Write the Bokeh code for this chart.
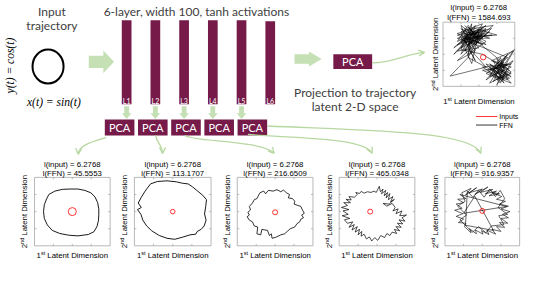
import math
from bokeh.plotting import figure
from bokeh.models import Range1d, Arrow, OpenHead
from bokeh.core.properties import value
from bokeh.embed import file_html
from bokeh.resources import INLINE

# ---------------- data ----------------
layer_labels = ["L1", "L2", "L3", "L4", "L5", "L6"]
pca_label = "PCA"
input_length = "6.2768"
layer_ffn_lengths = ["45.5553", "113.1707", "216.6509", "465.0348", "916.9357"]
final_ffn_length = "1584.693"
legend_labels = ["Inputs", "FFN"]

# latent trajectories (normalised panel units, -10..10)
traj1_x = [-0.6, 1.5, 3.3, 4.9, 6.0, 6.7, 7.0, 7.0, 6.9, 6.5, 5.7, 4.2, 1.5, -1.0, -3.3, -5.3, -6.6, -7.4, -7.6, -7.4, -6.8, -6.2, -4.6, -2.6, -0.6]
traj1_y = [6.6, 6.6, 6.2, 5.5, 4.3, 2.6, 0.8, -0.9, -2.7, -4.4, -5.9, -6.7, -7.1, -6.9, -6.4, -5.5, -3.9, -2.0, 0.0, 2.0, 3.7, 5.0, 6.0, 6.5, 6.6]

traj2_x = [-5.8, -4.0, -1.5, 1.0, 2.5, 4.0, 5.2, 6.5, 7.8, 8.8, 8.6, 8.3, 8.7, 8.2, 7.4, 6.4, 6.0, 4.5, 2.5, 0.5, -1.5, -3.5, -5.5, -6.8, -7.8, -8.3, -9.2, -8.2, -9.0, -8.2, -7.2, -5.8]
traj2_y = [8.1, 8.8, 9.0, 8.7, 8.3, 8.1, 7.2, 6.0, 4.8, 3.5, 1.5, -0.7, -2.5, -4.2, -5.2, -5.8, -6.6, -6.8, -7.5, -8.1, -7.8, -7.0, -5.6, -4.2, -2.5, -0.8, 0.6, 1.2, 2.5, 4.2, 6.0, 8.1]

traj3_x = [-4.5, -4.0, -3.0, -2.5, -1.8, -0.5, 0.5, 1.5, 2.2, 3.0, 3.8, 3.5, 4.6, 5.2, 5.0, 6.0, 6.8, 7.2, 7.7, 7.0, 7.5, 6.8, 6.5, 5.8, 5.2, 4.0, 3.2, 2.5, 1.5, 0.2, -0.8, -1.0, -1.5, -2.0, -3.5, -3.8, -4.8, -4.6, -5.5, -6.0, -6.8, -7.4, -6.8, -7.2, -6.5, -6.8, -6.0, -5.5, -4.8, -4.5]
traj3_y = [4.5, 5.5, 6.0, 5.2, 6.2, 6.0, 6.4, 5.8, 6.3, 5.5, 5.0, 4.0, 3.8, 3.0, 2.2, 1.8, 1.5, 0.5, -0.5, -1.0, -1.8, -2.2, -3.0, -3.5, -4.5, -5.0, -5.8, -6.5, -6.8, -7.5, -7.8, -6.5, -7.0, -5.5, -5.2, -6.8, -6.5, -4.5, -4.2, -3.0, -2.5, -1.5, -1.0, -0.2, 0.5, 1.5, 2.5, 3.5, 3.8, 4.5]

traj4_x = [-6.0, -5.2, -5.6, -4.6, -4.2, -3.4, -2.5, -1.6, -0.8, -0.2, 0.6, 0.9,
           1.6, 1.2, 2.3, 1.9, 2.8, 2.4, 3.4, 3.0, 4.2, 3.6, 4.6, 3.2, 1.6, 2.6, 4.0,
           4.8, 4.2, 5.6, 5.0, 6.6, 6.0, 7.8, 6.6, 7.4, 5.8, 6.8, 5.4, 6.4, 5.0, 6.0, 4.6, 5.2,
           4.0, 3.4, 2.6, 2.0, 1.0, 0.2, -0.6, -1.4, -2.0, -2.8,
           -3.4, -4.2, -4.0, -5.0, -4.6, -5.8, -5.2, -6.6, -6.0, -7.4, -6.4,
           -7.8, -8.6, -7.2, -9.2, -7.6, -9.0, -7.4, -9.4, -7.8, -8.8, -7.0, -8.2, -6.8, -7.4, -6.0]
traj4_y = [4.2, 5.0, 5.6, 5.3, 5.9, 5.4, 5.8, 5.6, 6.0, 5.6, 7.4, 5.8,
           6.6, 5.2, 6.2, 4.6, 5.6, 4.0, 5.3, 3.5, 4.4, 2.8, 3.6, 2.2, 2.4, 1.6, 2.4,
           1.2, 0.2, 0.8, -0.6, 0.2, -1.2, -1.0, -1.8, -2.8, -2.4, -3.6, -3.4, -4.6, -4.4, -5.6, -5.2, -6.4,
           -6.0, -7.0, -6.4, -7.6, -7.0, -8.4, -7.6, -8.6, -7.4, -8.0,
           -6.6, -7.2, -5.8, -6.8, -5.2, -6.0, -4.4, -5.4, -3.8, -4.6, -3.0,
           -3.4, -2.4, -2.0, -1.2, -0.8, 0.2, 0.6, 1.2, 1.8, 2.6, 2.6, 3.6, 3.4, 4.4, 4.2]

traj5_x = [-5.5, -3.0, -4.5, -1.5, -3.5, 0.0, -2.0, 1.5, -0.5, 2.8, 0.8, 3.8, 1.8, 4.6, 2.6, 5.2,
           3.8, 6.2, 4.6, 7.0, 5.0, 7.4, 5.4, 7.0, 5.0, 6.8, 4.6, 6.0,
           3.8, 5.0, 2.6, 3.6, 1.2, 1.8, -0.2, 0.2, -1.8, -1.6, -3.4, -3.0, -4.8,
           -4.4, -6.4, -5.0, -7.0, -5.2, -7.4, -5.4, -7.0, -5.0, -6.6, -4.4, -6.0,
           6.5, -5.0, -2.0, 3.0, -4.5,
           -4.0, -2.5, -1.0, 0.5, 2.0, 3.5, 4.8, 6.0, 4.2, 6.8, 4.4, 5.8, 2.4, 1.0, -1.0, -2.6, -4.0, -6.0, -4.2, -6.6, -4.6, -5.5]
traj5_y = [5.5, 6.8, 4.8, 7.0, 5.5, 6.6, 5.0, 7.2, 5.6, 6.5, 5.2, 6.0, 4.6, 5.2, 5.6, 4.4,
           3.6, 3.0, 2.2, 1.6, 0.8, 0.0, -0.8, -1.8, -2.0, -3.4, -3.2, -4.6,
           -4.4, -5.8, -5.2, -6.6, -5.4, -6.7, -5.6, -6.6, -5.4, -6.5, -5.0, -6.2, -4.4,
           -3.4, -3.2, -2.2, -1.4, -0.6, 0.4, 1.0, 2.2, 2.6, 3.6, 3.8, 5.0,
           1.5, -0.5, 4.5, -5.5, -4.0,
           6.0, 4.2, 6.2, 4.2, 6.6, 4.4, 6.2, 3.8, 1.2, -0.8, -1.2, -3.8, -4.2, -6.2, -4.4, -6.0, -4.6, -2.4, -1.0, 1.6, 3.0, 5.5]

traj_final_x = [-4, -1, -3, 0, -5, 1, -2, -6, 2, -3, -1, -5, 3, -4, 0, -6, 1, -2, -7, 2, -3, -5, 0, -4, 3.5, -1, -6, 1,
                -3, -2, -5, 2, -4, -1, -6, 0, -3, 3, -5, -2, 1, -4, -7, -1, -3, 2, -5, 0, -6, -2, 3.7, -4, -1, -5,
                1, -3, -6, 0, -2, -4, 2, -3, -5, 1, -1,
                6,
                3, 8, 5, 9, 2, 7, 4, 9, 3, 6, 8, 1, 7, 5, 9.5, 4, 8, 2, 6, 9, 3, 7, 5, 8.5, 4, 6.5, 2, 9, 5, 7.5,
                3, 8, 6, 1, 9, 4, 7, 5.5, 9.5, 3.5, 8, 6, 2.5, 7, 4.5, 8.5, 5, 10, 6, 3, 7,
                -3, -8, 2, -2, -5, 2, -4, 5, -1, -6, 0, -3, 8, 4, 6, 9, 1, -5, -2, 4, -3]
traj_final_y = [9, 6, 8.5, 5, 7, 9.5, 4, 6, 8, 3, 9, 4, 7, 1, 8, 3, 5, 7, 2, 9, 5, 0, 6.5, 6, 8, 3, 5, 7,
                -1, 9.5, 2, 6, 8, 1, -2, 4, 7, 5, 5, 2, 8.5, 3, 0, 7.5, 0, 4, 8, 2, 1, 5.5, 6, 4.5, -2, 6.5,
                3, 9, 4, 7, -2.9, 2, 7.5, 6, 3.5, 6, 4.5,
                -2,
                -5, -3, -8, -6, -3, -9, -2, -4, -7, -1, -8, -5, -4, -9.5, -2, -6, 0, -8, -5, -7, -3, -6.5, -1.5, -5, -8.5, -3, -6, -9, -4, -1,
                -9, -6, -7.5, -4, -3, -4.5, -8, -6, 1, -2, -4.5, -9, -5, -2.5, -7, -7.5, -3, 1.6, -6, -4, -7,
                -1, -6.8, -4, 1, 9, 3, 5, 6, 8, 6.5, 3.5, 4, -1, -5, -8.5, -5.5, 0, 1.5, 8, 9, 2.5]

# ---------------- layout (reference pixel units) ----------------
W, H = 540, 283
GREEN = "#c5e0b4"
GREEN_LINE = "#b8d8a2"
MAROON = "#751a49"
GREY_TXT = "#404040"
MAIN_FONT = "Lato"
PLOT_FONT = "Liberation Sans"

p = figure(width=524, height=267, x_range=Range1d(0, W), y_range=Range1d(H, 0),
           output_backend="svg", toolbar_location=None, min_border=0,
           x_axis_type=None, y_axis_type=None)
p.grid.visible = False
p.outline_line_color = None
p.background_fill_color = "white"


def txt(x, y, s, size, color=GREY_TXT, font=MAIN_FONT, align="center", baseline="middle",
        angle=0.0, xo=0, yo=0, style="normal"):
    p.text(x=[x], y=[y], text=[s], text_font=value(font), text_font_size=f"{size}px",
           text_color=color, text_align=align, text_baseline=baseline, angle=angle,
           x_offset=xo, y_offset=yo, text_font_style=style)


def right_arrow(x0, x1, yc, body_h, head_h, head_len):
    xb = x1 - head_len
    xs = [x0, xb, xb, x1, xb, xb, x0]
    ys = [yc - body_h / 2, yc - body_h / 2, yc - head_h / 2, yc, yc + head_h / 2, yc + body_h / 2, yc + body_h / 2]
    p.patch(xs, ys, fill_color=GREEN, line_color=None)


def down_arrow(xc, y0, y1, body_w, head_w, head_len):
    yb = y1 - head_len
    xs = [xc - body_w / 2, xc - body_w / 2, xc - head_w / 2, xc, xc + head_w / 2, xc + body_w / 2, xc + body_w / 2]
    ys = [y0, yb, yb, y1, yb, yb, y0]
    p.patch(xs, ys, fill_color=GREEN, line_color=None)


def curve(p0, c0, c1, p1):
    p.bezier(x0=[p0[0]], y0=[p0[1]], x1=[p1[0]], y1=[p1[1]], cx0=[c0[0]], cy0=[c0[1]],
             cx1=[c1[0]], cy1=[c1[1]], line_color=GREEN_LINE, line_width=1.3)
    p.add_layout(Arrow(end=OpenHead(size=6, line_color=GREEN_LINE, line_width=1.3),
                       x_start=c1[0], y_start=c1[1], x_end=p1[0], y_end=p1[1], line_alpha=0))


# ---------------- input trajectory ----------------
txt(53, 12, "Input", 12)
txt(53, 27, "trajectory", 12)
p.ellipse(x=[49], y=[70], width=32, height=36, fill_color=None, line_color="black", line_width=2)
txt(10, 69, "y(t) = cos(t)", 11.5, color="black", font="Liberation Serif", angle=math.pi / 2, style="italic")
txt(55, 108, "x(t) = sin(t)", 11.5, color="black", font="Liberation Serif", style="italic")
right_arrow(91, 117, 65, 13, 24, 11)

# ---------------- network layers ----------------
txt(202, 12, "6-layer, width 100, tanh activations", 12)
BAR_X0, BAR_STEP, BAR_W = 125, 29.6, 10
for i, lab in enumerate(layer_labels):
    left = BAR_X0 + i * BAR_STEP
    top = 21 if i < 5 else 22
    p.quad(left=[left], right=[left + BAR_W], top=[top], bottom=[110], fill_color=MAROON, line_color=None)
    txt(left + BAR_W / 2, 106.5, lab, 7, color="white")

PCA_X0, PCA_STEP, PCA_W = 107.5, 34.2, 30.5
for i in range(5):
    xc = BAR_X0 + i * BAR_STEP + BAR_W / 2
    down_arrow(xc, 112, 125.5, 5, 10, 6)
    left = PCA_X0 + i * PCA_STEP
    p.quad(left=[left], right=[left + PCA_W], top=[126], bottom=[143], fill_color=MAROON, line_color=None)
    txt(left + PCA_W / 2, 134.5, pca_label, 11, color="white")

# ---------------- final projection ----------------
right_arrow(303, 331, 62, 10, 16, 13)
p.quad(left=[343], right=[383], top=[57], bottom=[72.5], fill_color=MAROON, line_color=None)
txt(363, 65, pca_label, 11, color="white")
txt(365.5, 97, "Projection to trajectory", 12)
txt(365.5, 112, "latent 2-D space", 12)

curve((383, 66), (405, 66), (412, 58), (437, 55))
curve((109, 145), (94, 150), (81, 153), (80, 163))
curve((160, 143), (161, 152), (167, 152), (167, 162))
curve((190, 143), (200, 150), (270, 148), (282, 162))
curve((255, 142), (300, 146), (375, 145), (383, 162))
curve((275, 133), (380, 138), (485, 138), (495, 162))


# ---------------- latent panels ----------------
def panel(x0, top, w, h, tx, ty, cxy, r, ffn, lw, t1, t2, xl, yl):
    def X(v):
        return x0 + (v + 10) / 20 * w

    def Y(v):
        return top + h - (v + 10) / 20 * h

    p.line([X(v) for v in tx], [Y(v) for v in ty], line_color="black", line_width=lw)
    p.scatter([X(cxy[0])], [Y(cxy[1])], size=2 * r, marker="circle", fill_color=None,
              line_color="red", line_width=0.8)
    p.quad(left=[x0], right=[x0 + w], top=[top], bottom=[top + h], fill_color=None,
           line_color="#a6a6a6", line_width=0.8)
    sx0, sy0, sx1, sy1 = [], [], [], []
    for q in (0.25, 0.5, 0.75):
        xt = x0 + q * w
        yt = top + q * h
        sx0 += [xt, xt, x0, x0 + w]
        sx1 += [xt, xt, x0 + 2, x0 + w - 2]
        sy0 += [top + h, top, yt, yt]
        sy1 += [top + h - 2, top + 2, yt, yt]
    p.segment(x0=sx0, y0=sy0, x1=sx1, y1=sy1, line_color="#a6a6a6", line_width=0.8)
    cx = x0 + w / 2
    txt(cx, top - t1, f"l(input) = {input_length}", 7.8, color="black", font=PLOT_FONT)
    txt(cx, top - t2, f"l(FFN) = {ffn}", 7.8, color="black", font=PLOT_FONT)
    fs, fsup = 7.8, 5.5
    w1 = 0.556 * fs
    wsup = 0.778 * fsup
    wsp = 0.278 * fs
    wl = 7.781 * fs
    half = (w1 + wsup + wsp + wl) / 2
    ly = top + h + xl
    txt(cx, ly, "1", fs, "black", PLOT_FONT, align="left", xo=-half)
    txt(cx, ly, "st", fsup, "black", PLOT_FONT, align="left", xo=-half + w1, yo=-2.5)
    txt(cx, ly, "Latent Dimension", fs, "black", PLOT_FONT, align="left", xo=-half + w1 + wsup + wsp)
    wnd = 1.112 * fsup
    half = (w1 + wnd + wsp + wl) / 2
    lx = x0 - yl
    cy = top + h / 2
    txt(lx, cy, "2", fs, "black", PLOT_FONT, align="left", angle=math.pi / 2, yo=half)
    txt(lx, cy, "nd", fsup, "black", PLOT_FONT, align="left", angle=math.pi / 2, yo=half - w1, xo=-2.5)
    txt(lx, cy, "Latent Dimension", fs, "black", PLOT_FONT, align="left", angle=math.pi / 2,
        yo=half - w1 - wnd - wsp)


panels = [
    (35, 187.5, 78, 72.5, traj1_x, traj1_y, (0, 0), 4.0, 0.9),
    (138, 187.5, 79, 72.5, traj2_x, traj2_y, (0, 0), 2.3, 0.9),
    (244, 187.5, 78, 72.5, traj3_x, traj3_y, (0, -0.2), 2.5, 0.8),
    (349, 187.5, 78, 72.5, traj4_x, traj4_y, (-1.8, 0), 2.5, 0.7),
    (458, 187.5, 77, 72.5, traj5_x, traj5_y, (0, 0.2), 2.5, 0.6),
]
for (x0, top, w, h, tx, ty, cxy, r, lw), ffn in zip(panels, layer_ffn_lengths):
    panel(x0, top, w, h, tx, ty, cxy, r, ffn, lw, 14, 4, 10, 10)

panel(456, 23, 74, 68, traj_final_x, traj_final_y, (1.2, -0.9), 2.7, final_ffn_length, 0.55, 15.5, 5, 16, 8)

# legend of the final panel
p.line([490, 512], [123, 123], line_color="red", line_width=0.8)
p.line([490, 512], [132, 132], line_color="black", line_width=0.8)
txt(514, 123, legend_labels[0], 7, "black", PLOT_FONT, align="left")
txt(514, 132, legend_labels[1], 7, "black", PLOT_FONT, align="left")

open("out.html", "w").write(file_html(p, INLINE))
